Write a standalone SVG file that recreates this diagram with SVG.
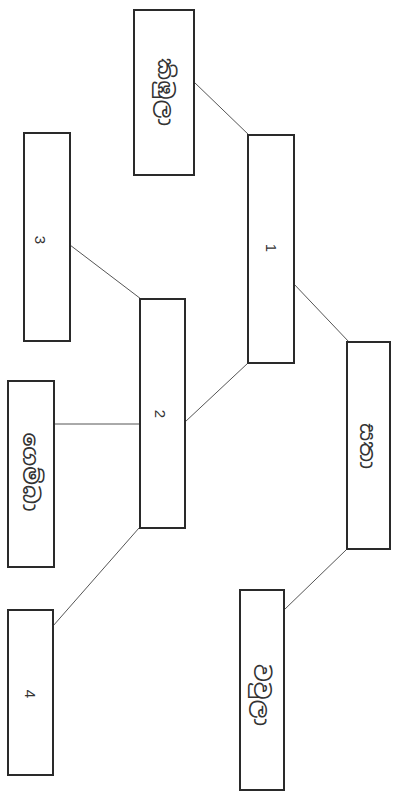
<svg xmlns="http://www.w3.org/2000/svg" width="394" height="792" viewBox="0 0 394 792">
<style>
.box{fill:#ffffff;stroke:#2a2a2a;stroke-width:2}
.num{font-family:"Liberation Sans",Arial,sans-serif;font-size:15px;fill:#333}
.si{font-family:"Noto Sans Sinhala","Noto Sans",sans-serif;font-size:22px;fill:#333}
.edge{stroke:#555;stroke-width:1;fill:none}
</style>
<rect width="394" height="792" fill="#ffffff"/>
<g id="connectors">
<line class="edge" x1="194" y1="82" x2="250" y2="136"/>
<line class="edge" x1="70" y1="245" x2="141" y2="299"/>
<line class="edge" x1="248" y1="363" x2="185" y2="422"/>
<line class="edge" x1="293" y1="283" x2="349" y2="342"/>
<line class="edge" x1="54" y1="424" x2="140" y2="424"/>
<line class="edge" x1="139" y1="528" x2="53" y2="626"/>
<line class="edge" x1="346" y1="550" x2="284" y2="610"/>
</g>
<g id="node-kimbula">
<rect class="box" x="134" y="10" width="60" height="165"/>
<text class="si" transform="translate(166,92) rotate(90)" text-anchor="middle" dominant-baseline="central">කිඹුලා</text>
</g>
<g id="node-1">
<rect class="box" x="248" y="135" width="46" height="228"/>
<text class="num" transform="translate(271,248) rotate(90)" text-anchor="middle" dominant-baseline="central">1</text>
</g>
<g id="node-3">
<rect class="box" x="24" y="133" width="46" height="208"/>
<text class="num" transform="translate(40,240) rotate(90)" text-anchor="middle" dominant-baseline="central">3</text>
</g>
<g id="node-2">
<rect class="box" x="140" y="299" width="45" height="229"/>
<text class="num" transform="translate(160,414) rotate(90)" text-anchor="middle" dominant-baseline="central">2</text>
</g>
<g id="node-gemba">
<rect class="box" x="8" y="381" width="46" height="186"/>
<text class="si" transform="translate(31,472) rotate(90)" text-anchor="middle" dominant-baseline="central">ගෙම්බා</text>
</g>
<g id="node-4">
<rect class="box" x="8" y="610" width="45" height="165"/>
<text class="num" transform="translate(30,694) rotate(90)" text-anchor="middle" dominant-baseline="central">4</text>
</g>
<g id="node-sata">
<rect class="box" x="347" y="342" width="43" height="207"/>
<text class="si" transform="translate(368,446) rotate(90)" text-anchor="middle" dominant-baseline="central">සතා</text>
</g>
<g id="node-wawula">
<rect class="box" x="240" y="590" width="44" height="200"/>
<text class="si" transform="translate(262,695) rotate(90)" text-anchor="middle" dominant-baseline="central">වවුලා</text>
</g>
</svg>
